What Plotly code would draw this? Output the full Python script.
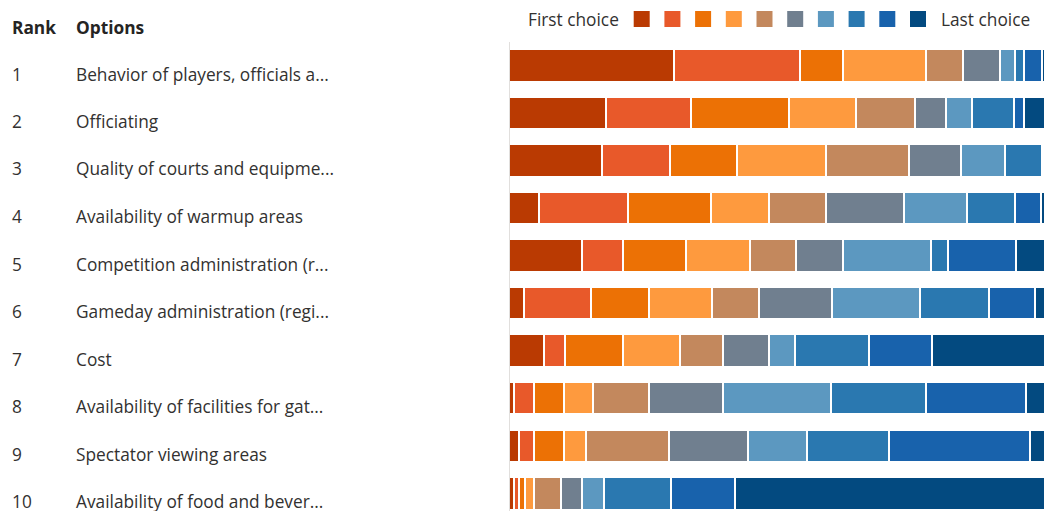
import plotly.graph_objects as go

# ---------------- data ----------------
ranks = [1, 2, 3, 4, 5, 6, 7, 8, 9, 10]
options = [
    "Behavior of players, officials a...",
    "Officiating",
    "Quality of courts and equipme...",
    "Availability of warmup areas",
    "Competition administration (r...",
    "Gameday administration (regi...",
    "Cost",
    "Availability of facilities for gat...",
    "Spectator viewing areas",
    "Availability of food and bever...",
]
choice_labels = ["1st", "2nd", "3rd", "4th", "5th", "6th", "7th", "8th", "9th", "10th"]
# share (%) of respondents placing each option at each position (columns = choice 1..10)
choice_1 = [30.8, 18.0, 17.3, 5.5, 13.5, 2.7, 6.6, 1.0, 1.9, 1.0]
choice_2 = [23.3, 15.8, 12.6, 16.6, 7.8, 12.6, 3.9, 3.7, 2.8, 0.9]
choice_3 = [8.1, 18.3, 12.6, 15.5, 11.7, 10.8, 10.8, 5.6, 5.6, 1.0]
choice_4 = [15.4, 12.6, 16.6, 10.9, 11.8, 11.7, 10.5, 5.3, 4.1, 1.8]
choice_5 = [7.0, 10.9, 15.4, 10.6, 8.6, 8.7, 8.1, 10.5, 15.4, 5.0]
choice_6 = [6.8, 5.8, 9.7, 14.5, 8.8, 13.6, 8.5, 13.7, 14.7, 3.9]
choice_7 = [2.8, 4.8, 8.1, 11.7, 16.4, 16.4, 4.9, 20.2, 10.9, 4.0]
choice_8 = [1.7, 7.8, 6.9, 9.0, 3.2, 12.8, 13.7, 17.6, 15.4, 12.6]
choice_9 = [3.3, 1.9, 0.5, 4.7, 12.6, 8.6, 11.8, 18.6, 26.3, 11.8]
choice_10 = [0.8, 4.1, 0.3, 1.0, 5.6, 2.1, 21.2, 3.8, 2.9, 58.0]
series = [choice_1, choice_2, choice_3, choice_4, choice_5,
          choice_6, choice_7, choice_8, choice_9, choice_10]
colors = ["#BA3A02", "#E8592A", "#EC7105", "#FE9A3E", "#C3885D",
          "#707F8F", "#5C98C0", "#2A78B0", "#1862AC", "#034A80"]

# ---------------- layout helpers (pixels) ----------------
W, H = 1044, 511
FONT = "Open Sans, sans-serif"
TXT = "#323130"
FS = 17.3

def px_x(p):
    return p / W

def px_y(p):
    return 1 - p / H

fig = go.Figure()
for k, vals in enumerate(series):
    fig.add_trace(go.Bar(
        x=vals, y=ranks, orientation="h", name=choice_labels[k],
        marker=dict(color=colors[k], line=dict(color="white", width=1.5)),
        width=0.662, showlegend=False,
        hovertemplate="%{x}%<extra>" + choice_labels[k] + "</extra>",
    ))

# bar area geometry
plot_left = 509.7
plot_top = 42.0
row0 = 65.9      # center of first bar (px)
pitch = 47.55    # px per row
y_top = 1 + (plot_top - row0) / pitch
y_bot = 1 + (H - row0) / pitch
px_per_unit = 5.37
x_max = (W - plot_left) / px_per_unit

fig.update_layout(
    width=W, height=H,
    margin=dict(l=0, r=0, t=0, b=0),
    paper_bgcolor="white", plot_bgcolor="white",
    barmode="stack", bargap=0,
    xaxis=dict(domain=[px_x(plot_left), 1], range=[0, x_max], visible=False, fixedrange=True),
    yaxis=dict(domain=[0, px_y(plot_top)], range=[y_bot, y_top],
               showline=True, linecolor="#E1DFDD", linewidth=1,
               showticklabels=False, showgrid=False, zeroline=False, ticks=""),
    font=dict(family=FONT, color=TXT, size=FS),
)

ann = []
# header
ann.append(dict(x=px_x(10), y=px_y(27), xref="paper", yref="paper", xanchor="left", yanchor="middle",
                text="<b>Rank</b>", showarrow=False, font=dict(size=FS, color="#252423")))
ann.append(dict(x=px_x(74), y=px_y(27), xref="paper", yref="paper", xanchor="left", yanchor="middle",
                text="<b>Options</b>", showarrow=False, font=dict(size=FS, color="#252423")))
# rows
for i, (r, o) in enumerate(zip(ranks, options)):
    yc = 74 + 47.5 * i
    ann.append(dict(x=px_x(10), y=px_y(yc), xref="paper", yref="paper", xanchor="left", yanchor="middle",
                    text=str(r), showarrow=False, font=dict(size=FS)))
    ann.append(dict(x=px_x(74), y=px_y(yc), xref="paper", yref="paper", xanchor="left", yanchor="middle",
                    text=o, showarrow=False, font=dict(size=FS)))
# legend texts
ann.append(dict(x=px_x(526), y=px_y(19), xref="paper", yref="paper", xanchor="left", yanchor="middle",
                text="First choice", showarrow=False, font=dict(size=FS)))
ann.append(dict(x=px_x(939), y=px_y(19), xref="paper", yref="paper", xanchor="left", yanchor="middle",
                text="Last choice", showarrow=False, font=dict(size=FS)))

shapes = []
for k, c in enumerate(colors):
    x0 = 633.7 + 30.7 * k
    shapes.append(dict(type="rect", xref="paper", yref="paper",
                       x0=px_x(x0), x1=px_x(x0 + 16), y0=px_y(27), y1=px_y(11),
                       fillcolor=c, line=dict(width=0)))

fig.update_layout(annotations=ann, shapes=shapes)
fig.write_html("out.html")
